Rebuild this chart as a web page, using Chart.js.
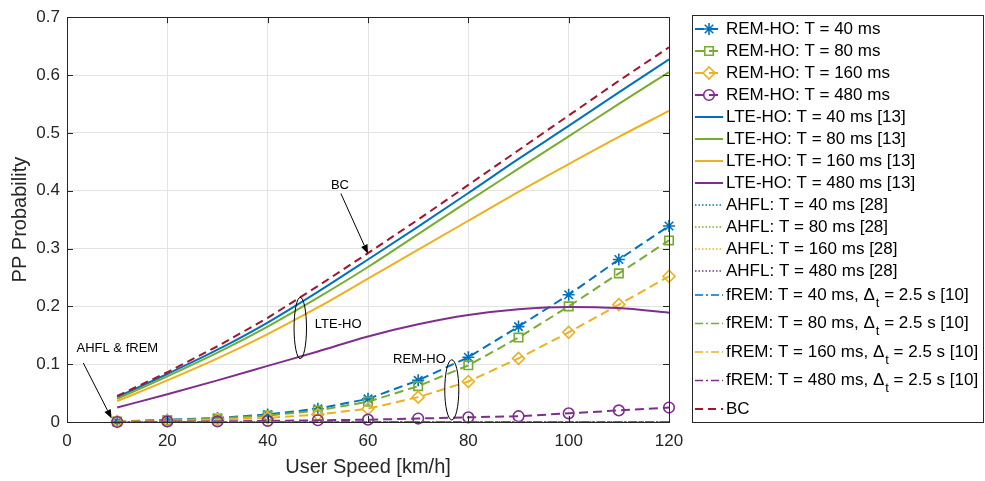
<!DOCTYPE html>
<html>
<head>
<meta charset="utf-8">
<script src="https://cdn.jsdelivr.net/npm/chart.js@4.4.0/dist/chart.umd.min.js"></script>
<style>
	html, body { margin: 0; padding: 0; background: #fff; }
	#wrap { width: 985px; height: 481px; }
</style>
</head>
<body>
<div id="wrap"><canvas id="ppChart" width="985" height="481"></canvas></div>
<script>
'use strict';
// *** Data ***
const speeds = [10, 20, 30, 40, 50, 60, 70, 80, 90, 100, 110, 120];

const remHo40 = [0.001, 0.004, 0.007, 0.013, 0.023, 0.040, 0.072, 0.112, 0.165, 0.220, 0.281, 0.339];
const remHo80 = [0.001, 0.003, 0.006, 0.011, 0.020, 0.035, 0.062, 0.098, 0.146, 0.200, 0.257, 0.314];
const remHo160 = [0.001, 0.002, 0.004, 0.007, 0.013, 0.023, 0.043, 0.070, 0.110, 0.155, 0.203, 0.252];
const remHo480 = [0.000, 0.001, 0.001, 0.002, 0.003, 0.004, 0.006, 0.008, 0.010, 0.015, 0.020, 0.025];

const lteHo40 = [0.043, 0.083, 0.125, 0.172, 0.225, 0.281, 0.338, 0.396, 0.455, 0.512, 0.570, 0.627];
const lteHo80 = [0.040, 0.079, 0.120, 0.165, 0.215, 0.268, 0.325, 0.382, 0.438, 0.494, 0.550, 0.605];
const lteHo160 = [0.036, 0.072, 0.110, 0.152, 0.198, 0.248, 0.298, 0.348, 0.398, 0.446, 0.493, 0.538];
const lteHo480 = [0.025, 0.048, 0.072, 0.097, 0.122, 0.148, 0.169, 0.185, 0.195, 0.199, 0.197, 0.189];

const ahfl40 = [0, 0, 0, 0, 0, 0, 0, 0, 0, 0, 0, 0];
const ahfl80 = [0, 0, 0, 0, 0, 0, 0, 0, 0, 0, 0, 0];
const ahfl160 = [0, 0, 0, 0, 0, 0, 0, 0, 0, 0, 0, 0];
const ahfl480 = [0, 0, 0, 0, 0, 0, 0, 0, 0, 0, 0, 0];

const frem40 = [0, 0, 0, 0, 0, 0, 0, 0, 0, 0, 0, 0];
const frem80 = [0, 0, 0, 0, 0, 0, 0, 0, 0, 0, 0, 0];
const frem160 = [0, 0, 0, 0, 0, 0, 0, 0, 0, 0, 0, 0];
const frem480 = [0, 0, 0, 0, 0, 0, 0, 0, 0, 0, 0, 0];

const bcBound = [0.045, 0.086, 0.131, 0.180, 0.235, 0.292, 0.350, 0.410, 0.470, 0.530, 0.590, 0.648];

const xTicks = [0, 20, 40, 60, 80, 100, 120];
const yTicks = [0, 0.1, 0.2, 0.3, 0.4, 0.5, 0.6, 0.7];

// annotations, in data coordinates
const noteTexts = [
	{ text: 'BC', x: 54.4, y: 0.409, align: 'center' },
	{ text: 'LTE-HO', x: 49.4, y: 0.169, align: 'left' },
	{ text: 'REM-HO', x: 65.0, y: 0.108, align: 'left' },
	{ text: 'AHFL & fREM', x: 1.9, y: 0.127, align: 'left' },
];
const noteArrows = [
	{ x0: 54.6, y0: 0.395, x1: 60.0, y1: 0.291 },
	{ x0: 3.25, y0: 0.102, x1: 8.9, y1: 0.006 },
];
const noteEllipses = [
	{ x: 46.5, y: 0.1625, rx: 1.24, ry: 0.053 },
	{ x: 76.7, y: 0.0556, rx: 1.4, ry: 0.052 },
];

const FONT = "'Liberation Sans', Arial, Helvetica, sans-serif";
const C_BLUE = '#0072BD';
const C_GREEN = '#77AC30';
const C_YELLOW = '#EDB120';
const C_PURPLE = '#7E2F8E';
const C_RED = '#A2142F';

function toPoints(_values) {
	return speeds.map((s, i) => ({ x: s, y: _values[i] }));
}

function makeSet(_label, _values, _color, _kind, _marker) {
	let dash = [];
	let width = 2;
	switch (_kind) {
		case 'dash':
			dash = [9, 5];
			break;
		case 'bc':
			dash = [8, 5];
			break;
		case 'dot':
			dash = [1.5, 2];
			width = 1.6;
			break;
		case 'dashdot':
			dash = [8, 3, 2, 3];
			width = 1.6;
			break;
		default:
			dash = [];
			break;
	}
	return {
		label: _label,
		data: toPoints(_values),
		borderColor: _color,
		backgroundColor: 'rgba(0,0,0,0)',
		borderWidth: width,
		borderDash: dash,
		pointStyle: _marker || 'circle',
		pointRadius: _marker ? (_marker === 'circle' ? 5.3 : 6) : 0,
		pointBorderWidth: 1.6,
		pointBorderColor: _color,
		pointBackgroundColor: 'rgba(0,0,0,0)',
		cubicInterpolationMode: _kind === 'solid' ? 'monotone' : 'default',
		tension: 0,
		clip: false,
	};
}

function prepareDataSets() {
	const aryDataSets = [];
	aryDataSets.push(makeSet('REM-HO: T = 40 ms', remHo40, C_BLUE, 'dash', 'star'));
	aryDataSets.push(makeSet('REM-HO: T = 80 ms', remHo80, C_GREEN, 'dash', 'rect'));
	aryDataSets.push(makeSet('REM-HO: T = 160 ms', remHo160, C_YELLOW, 'dash', 'rectRot'));
	aryDataSets.push(makeSet('REM-HO: T = 480 ms', remHo480, C_PURPLE, 'dash', 'circle'));
	aryDataSets.push(makeSet('LTE-HO: T = 40 ms [13]', lteHo40, C_BLUE, 'solid'));
	aryDataSets.push(makeSet('LTE-HO: T = 80 ms [13]', lteHo80, C_GREEN, 'solid'));
	aryDataSets.push(makeSet('LTE-HO: T = 160 ms [13]', lteHo160, C_YELLOW, 'solid'));
	aryDataSets.push(makeSet('LTE-HO: T = 480 ms [13]', lteHo480, C_PURPLE, 'solid'));
	aryDataSets.push(makeSet('AHFL: T = 40 ms [28]', ahfl40, C_BLUE, 'dot'));
	aryDataSets.push(makeSet('AHFL: T = 80 ms [28]', ahfl80, C_GREEN, 'dot'));
	aryDataSets.push(makeSet('AHFL: T = 160 ms [28]', ahfl160, C_YELLOW, 'dot'));
	aryDataSets.push(makeSet('AHFL: T = 480 ms [28]', ahfl480, C_PURPLE, 'dot'));
	aryDataSets.push(makeSet('fREM: T = 40 ms, Δ_t = 2.5 s [10]', frem40, C_BLUE, 'dashdot'));
	aryDataSets.push(makeSet('fREM: T = 80 ms, Δ_t = 2.5 s [10]', frem80, C_GREEN, 'dashdot'));
	aryDataSets.push(makeSet('fREM: T = 160 ms, Δ_t = 2.5 s [10]', frem160, C_YELLOW, 'dashdot'));
	aryDataSets.push(makeSet('fREM: T = 480 ms, Δ_t = 2.5 s [10]', frem480, C_PURPLE, 'dashdot'));
	aryDataSets.push(makeSet('BC', bcBound, C_RED, 'bc'));
	// later datasets are drawn on top, like the original plot
	aryDataSets.forEach((ds, i) => { ds.order = aryDataSets.length - i; });
	return aryDataSets;
}

// *** Plugins ***
const axesBoxPlugin = {
	id: 'axesBox',
	afterDraw(chart) {
		const { ctx, chartArea: a } = chart;
		const xs = chart.scales.x;
		const ys = chart.scales.y;
		ctx.save();
		ctx.strokeStyle = '#262626';
		ctx.lineWidth = 1;
		ctx.setLineDash([]);
		ctx.strokeRect(Math.round(a.left) + 0.5, Math.round(a.top) + 0.5,
			Math.round(a.right - a.left), Math.round(a.bottom - a.top));
		ctx.beginPath();
		xTicks.forEach((v) => {
			const px = Math.round(xs.getPixelForValue(v)) + 0.5;
			ctx.moveTo(px, a.bottom); ctx.lineTo(px, a.bottom - 6);
			ctx.moveTo(px, a.top); ctx.lineTo(px, a.top + 6);
		});
		yTicks.forEach((v) => {
			const py = Math.round(ys.getPixelForValue(v)) + 0.5;
			ctx.moveTo(a.left, py); ctx.lineTo(a.left + 6, py);
			ctx.moveTo(a.right, py); ctx.lineTo(a.right - 6, py);
		});
		ctx.stroke();
		ctx.restore();
	},
};

const notesPlugin = {
	id: 'notes',
	afterDatasetsDraw(chart) {
		const { ctx } = chart;
		const xs = chart.scales.x;
		const ys = chart.scales.y;
		ctx.save();
		ctx.strokeStyle = '#000';
		ctx.fillStyle = '#000';
		ctx.lineWidth = 1;
		ctx.setLineDash([]);
		noteEllipses.forEach((e) => {
			const cx = xs.getPixelForValue(e.x);
			const cy = ys.getPixelForValue(e.y);
			const rx = Math.abs(xs.getPixelForValue(e.x + e.rx) - cx);
			const ry = Math.abs(ys.getPixelForValue(e.y + e.ry) - cy);
			ctx.beginPath();
			ctx.ellipse(cx, cy, rx, ry, 0, 0, Math.PI * 2);
			ctx.stroke();
		});
		noteArrows.forEach((ar) => {
			const x0 = xs.getPixelForValue(ar.x0);
			const y0 = ys.getPixelForValue(ar.y0);
			const x1 = xs.getPixelForValue(ar.x1);
			const y1 = ys.getPixelForValue(ar.y1);
			const ang = Math.atan2(y1 - y0, x1 - x0);
			const len = 9;
			const half = 3.5;
			const bx = x1 - len * Math.cos(ang);
			const by = y1 - len * Math.sin(ang);
			ctx.beginPath();
			ctx.moveTo(x0, y0);
			ctx.lineTo(bx, by);
			ctx.stroke();
			ctx.beginPath();
			ctx.moveTo(x1, y1);
			ctx.lineTo(bx - half * Math.sin(ang), by + half * Math.cos(ang));
			ctx.lineTo(bx + half * Math.sin(ang), by - half * Math.cos(ang));
			ctx.closePath();
			ctx.fill();
		});
		ctx.font = '13px ' + FONT;
		ctx.textBaseline = 'middle';
		ctx.fillStyle = '#000';
		noteTexts.forEach((n) => {
			ctx.textAlign = n.align;
			ctx.fillText(n.text, xs.getPixelForValue(n.x), ys.getPixelForValue(n.y));
		});
		ctx.restore();
	},
};

const boxLegendPlugin = {
	id: 'boxLegend',
	afterDraw(chart) {
		const { ctx } = chart;
		const left = 692;
		const top = 15;
		const right = 984;
		const bottom = chart.chartArea.bottom;
		ctx.save();
		ctx.fillStyle = '#fff';
		ctx.fillRect(left, top, right - left, bottom - top);
		ctx.strokeStyle = '#262626';
		ctx.lineWidth = 1;
		ctx.setLineDash([]);
		ctx.strokeRect(left + 0.5, top + 0.5, right - left - 1, bottom - top);
		chart.data.datasets.forEach((ds, i) => {
			const yRow = i < 12 ? 29 + 22 * i : 295 + 28.5 * (i - 12);
			ctx.save();
			ctx.strokeStyle = ds.borderColor;
			ctx.lineWidth = ds.borderWidth;
			ctx.setLineDash(ds.borderDash);
			ctx.beginPath();
			ctx.moveTo(695, yRow);
			ctx.lineTo(723, yRow);
			ctx.stroke();
			if (ds.pointRadius > 0) {
				ctx.setLineDash([]);
				ctx.lineWidth = ds.pointBorderWidth;
				ctx.fillStyle = 'rgba(0,0,0,0)';
				Chart.helpers.drawPoint(ctx, {
					pointStyle: ds.pointStyle,
					radius: ds.pointRadius,
					rotation: 0,
					borderWidth: ds.pointBorderWidth,
				}, 709, yRow);
			}
			ctx.restore();
			// label, with Δ_t written as a subscript
			ctx.fillStyle = '#000';
			ctx.textAlign = 'left';
			ctx.textBaseline = 'middle';
			ctx.font = '17px ' + FONT;
			const parts = ds.label.split('_t');
			let tx = 726;
			ctx.fillText(parts[0], tx, yRow);
			if (parts.length > 1) {
				tx += ctx.measureText(parts[0]).width;
				ctx.font = '13px ' + FONT;
				ctx.fillText('t', tx + 1, yRow + 8);
				tx += ctx.measureText('t').width + 1;
				ctx.font = '17px ' + FONT;
				ctx.fillText(parts[1], tx, yRow);
			}
		});
		ctx.restore();
	},
};

function prepareOptions() {
	const tickFont = { family: FONT, size: 17 };
	const titleFont = { family: FONT, size: 20 };
	return {
		responsive: false,
		animation: false,
		devicePixelRatio: 1,
		layout: { padding: { left: 0, right: 316, top: 15, bottom: 0 } },
		plugins: {
			legend: { display: false },
			tooltip: { enabled: false },
		},
		scales: {
			x: {
				type: 'linear',
				min: 0,
				max: 120,
				afterBuildTicks: (scale) => { scale.ticks = xTicks.map((v) => ({ value: v })); },
				afterFit: (scale) => { scale.height = 59; },
				grid: { color: '#e3e3e3', drawTicks: false },
				border: { display: false },
				ticks: { font: tickFont, color: '#262626', padding: 9, maxRotation: 0 },
				title: {
					display: true,
					text: 'User Speed [km/h]',
					font: titleFont,
					color: '#262626',
					padding: { top: 0, bottom: 2 },
				},
			},
			y: {
				type: 'linear',
				min: 0,
				max: 0.7,
				afterBuildTicks: (scale) => { scale.ticks = yTicks.map((v) => ({ value: v })); },
				afterFit: (scale) => { scale.width = 67; },
				grid: { color: '#e3e3e3', drawTicks: false },
				border: { display: false },
				ticks: {
					font: tickFont,
					color: '#262626',
					padding: 7,
					callback: (v) => String(Math.round(v * 10) / 10),
				},
				title: {
					display: true,
					text: 'PP Probability',
					font: titleFont,
					color: '#262626',
					padding: { top: 8, bottom: 0 },
				},
			},
		},
	};
}

// *** Entry Point ***
const ppChart = new Chart(document.getElementById('ppChart'), {
	type: 'line',
	data: { datasets: prepareDataSets() },
	options: prepareOptions(),
	plugins: [axesBoxPlugin, notesPlugin, boxLegendPlugin],
});
</script>
</body>
</html>
